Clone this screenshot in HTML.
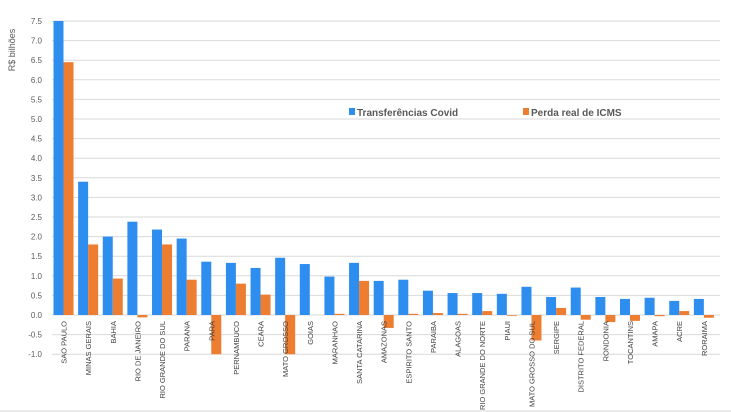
<!DOCTYPE html>
<html><head><meta charset="utf-8"><style>
body{margin:0;background:#fff;}
svg{display:block;font-family:"Liberation Sans",sans-serif;}
</style></head><body>
<svg id="chart" width="731" height="412"></svg>
<script>
const categories=["SAO PAULO","MINAS GERAIS","BAHIA","RIO DE JANEIRO","RIO GRANDE DO SUL","PARANA","PARA","PERNAMBUCO","CEARA","MATO GROSSO","GOIAS","MARANHAO","SANTA CATARINA","AMAZONAS","ESPIRITO SANTO","PARAIBA","ALAGOAS","RIO GRANDE DO NORTE","PIAUI","MATO GROSSO DO SUL","SERGIPE","DISTRITO FEDERAL","RONDONIA","TOCANTINS","AMAPA","ACRE","RORAIMA"];
const transferencias=[7.5,3.4,2.0,2.38,2.18,1.95,1.36,1.33,1.2,1.46,1.3,0.98,1.33,0.87,0.9,0.62,0.56,0.56,0.54,0.72,0.46,0.7,0.46,0.41,0.44,0.36,0.41];
const perdaICMS=[6.45,1.8,0.93,-0.06,1.8,0.9,-1.0,0.8,0.52,-1.0,0,0.03,0.87,-0.33,0.03,0.05,0.03,0.1,-0.02,-0.65,0.18,-0.12,-0.18,-0.15,-0.03,0.1,-0.07];
const yTicks=[-1.0,-0.5,0,0.5,1.0,1.5,2.0,2.5,3.0,3.5,4.0,4.5,5.0,5.5,6.0,6.5,7.0,7.5];
const NS="http://www.w3.org/2000/svg";
const svg=document.getElementById('chart');
const x0=52,x1=717,y0v=315,pxPerUnit=39.2;
const yScale=v=>y0v-v*pxPerUnit;
const band=(x1-x0)/categories.length;
const xScale=i=>x0+i*band;
function mk(t,a){const e=document.createElementNS(NS,t);for(const k in a)e.setAttribute(k,a[k]);svg.appendChild(e);return e;}
yTicks.forEach(v=>{
 const g=mk('line',{x1:x0,x2:720,y1:yScale(v),y2:yScale(v),stroke:'#d9d9d9','stroke-width':1});
 
 
 const t=mk('text',{x:42,y:yScale(v)+3,'font-size':8,fill:'#595959','text-anchor':'end'});
 t.textContent=v.toFixed(1);
 
 
});
const yt=mk('text',{transform:'translate(15,50) rotate(-90)','font-size':9,fill:'#595959','text-anchor':'middle'});
yt.textContent='R$ bilhões';


const bw=10;
categories.forEach((c,i)=>{
 const xs=xScale(i)+1.5;
 const v=transferencias[i];
 const b=mk('rect',{x:xs,y:Math.min(yScale(v),y0v),width:bw,height:Math.abs(yScale(v)-y0v),fill:'#2e8ef0'});
 
 
 const p=perdaICMS[i];
 const o=mk('rect',{x:xs+bw,y:Math.min(yScale(p),y0v),width:bw,height:Math.max(Math.abs(yScale(p)-y0v),0.01),fill:'#ed7d31'});
 
 
 const lx=xs+bw+3;
 const t=mk('text',{transform:`translate(${lx},321) rotate(-90)`,'font-size':7.5,fill:'#404040','text-anchor':'end'});
 t.textContent=c;
 
 
});
const leg=[['#2e8ef0','Transferências Covid',349],['#ed7d31','Perda real de ICMS',523]];
leg.forEach(l=>{
 const r=mk('rect',{x:l[2],y:108,width:6,height:7,fill:l[0]});
 
 
 const t=mk('text',{x:l[2]+8,y:116,'font-size':10,'font-weight':'bold',fill:'#595959'});
 t.textContent=l[1];
 
 
});
const bl=mk('line',{x1:0,x2:731,y1:411,y2:411,stroke:'#d9d9d9'});


</script>
</body></html>
